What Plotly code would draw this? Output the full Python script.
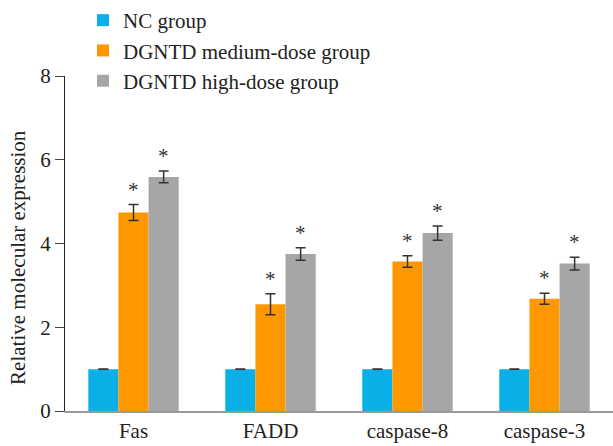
import numpy as np
import plotly.graph_objects as go

# Relative expression of apoptosis pathway molecules
categories = ["Fas", "FADD", "caspase-8", "caspase-3"]
groups = ["NC group", "DGNTD medium-dose group", "DGNTD high-dose group"]

nc_values = [1.0, 1.0, 1.0, 1.0]
nc_errors = [0.005, 0.005, 0.005, 0.005]

medium_values = [4.74, 2.55, 3.57, 2.68]
medium_errors = [0.19, 0.25, 0.14, 0.13]

high_values = [5.59, 3.75, 4.25, 3.52]
high_errors = [0.14, 0.15, 0.17, 0.15]

significant = [False, True, True]

y_title = "Relative molecular expression"

colors = ["#0AAFE8", "#FF9800", "#A6A6A6"]
FONT = "Liberation Serif, Times New Roman, serif"
BAR_W = 0.22

series = [
    (nc_values, nc_errors),
    (medium_values, medium_errors),
    (high_values, high_errors),
]

fig = go.Figure()
base_x = np.arange(len(categories))
annotations = []

for k, (name, (vals, errs), color, sig) in enumerate(zip(groups, series, colors, significant)):
    xs = base_x + (k - 1) * BAR_W
    fig.add_trace(go.Bar(
        x=xs, y=vals, width=BAR_W, name=name,
        marker=dict(color=color, line=dict(width=0)),
        error_y=dict(type="data", array=errs, visible=True,
                     color="#333333", thickness=1.5, width=5),
    ))
    if sig:
        for x, v, e in zip(xs, vals, errs):
            annotations.append(dict(
                x=x, y=v + e, xref="x", yref="y", text="*", showarrow=False,
                yanchor="bottom", yshift=1,
                font=dict(family=FONT, size=21, color="#333333"),
            ))

# vertical axis title, placed left of the tick labels
annotations.append(dict(
    text=y_title, textangle=-90, showarrow=False,
    xref="paper", yref="paper", x=-47 / 548, y=0.457,
    xanchor="center", yanchor="middle",
    font=dict(family=FONT, size=21, color="#222222"),
))

fig.update_layout(
    width=613, height=446,
    margin=dict(l=65, r=0, t=76, b=35, autoexpand=False),
    paper_bgcolor="white", plot_bgcolor="white",
    barmode="overlay",
    font=dict(family=FONT, size=21, color="#222222"),
    showlegend=True,
    legend=dict(
        xref="container", yref="container", x=83 / 613, y=1.016,
        xanchor="left", yanchor="top",
        bgcolor="rgba(0,0,0,0)", font=dict(family=FONT, size=21, color="#222222"),
        tracegroupgap=0, itemwidth=30,
    ),
    annotations=annotations,
    xaxis=dict(
        range=[-0.5, 3.5], tickvals=list(base_x), ticktext=categories,
        showline=True, linecolor="#999999", linewidth=2,
        ticks="", showgrid=False, zeroline=False, tickangle=0,
        tickfont=dict(family=FONT, size=21, color="#222222"),
    ),
    yaxis=dict(
        range=[0, 8], tickvals=[0, 2, 4, 6, 8],
        showline=True, linecolor="#222222", linewidth=1,
        ticks="outside", ticklen=9, tickcolor="#444444", tickwidth=1,
        showgrid=False, zeroline=False,
        tickfont=dict(family=FONT, size=21, color="#222222"),
    ),
)

fig.write_html("out.html")
